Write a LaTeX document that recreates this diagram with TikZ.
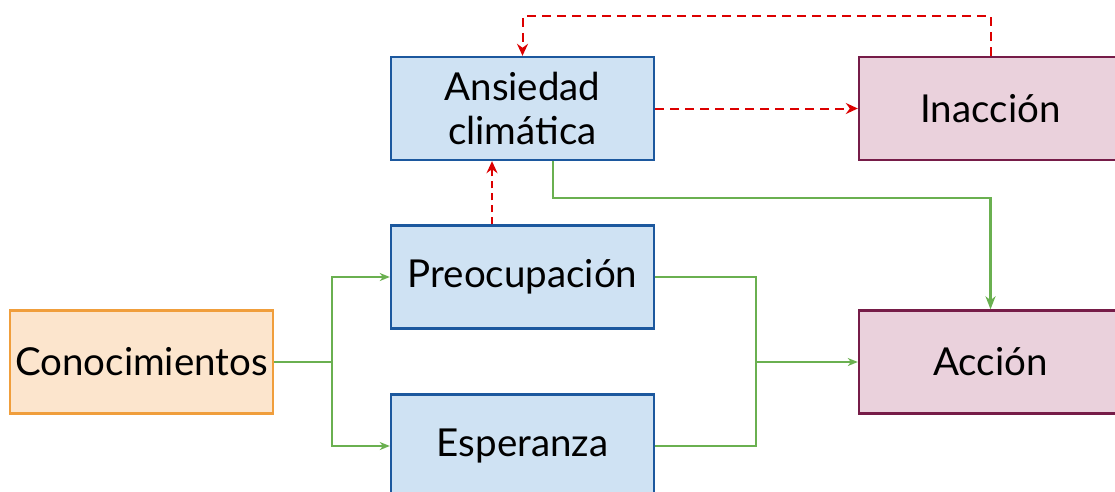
\documentclass[tikz,border=0pt]{standalone}
\usepackage{fontspec}
\setmainfont{Lato}
\usepackage{xcolor}
\usetikzlibrary{positioning,calc,arrows.meta}
\definecolor{BoxBlue}{RGB}{207,226,243}
\definecolor{LineBlue}{RGB}{28,88,158}
\definecolor{BoxOrange}{RGB}{252,229,205}
\definecolor{LineOrange}{RGB}{240,158,60}
\definecolor{BoxPink}{RGB}{234,209,220}
\definecolor{LinePink}{RGB}{118,28,72}
\definecolor{ArrGreen}{RGB}{106,176,80}
\definecolor{ArrRed}{RGB}{220,0,0}
\tikzset{
    box/.style={rectangle, draw, line width=2.4pt, minimum width=263pt, minimum height=103pt,
        inner sep=1pt, align=center, font=\fontsize{38.5}{44}\selectfont},
    bluebox/.style={box, draw=LineBlue, fill=BoxBlue},
    orangebox/.style={box, draw=LineOrange, fill=BoxOrange},
    pinkbox/.style={box, draw=LinePink, fill=BoxPink},
    thinline/.style={draw=ArrGreen, line width=1.5pt},
    thickline/.style={draw=ArrGreen, line width=2.2pt},
    redline/.style={draw=ArrRed, line width=2pt, dash pattern=on 9pt off 6pt}
}

\begin{document}
\begin{tikzpicture}[x=1pt, y=-1pt,
        % --- ARROW TIPS ---
        greentip/.style={-{Stealth[length=10pt, width=8pt, inset=3pt]}},
        bigtip/.style={-{Stealth[length=13pt, width=10pt, inset=4pt]}},
        redtip/.style={-{Stealth[length=12pt, width=11pt, inset=4pt]}}
    ]
        \useasboundingbox (0,0) rectangle (1115,491);

        % --- NODES ---
        \node[orangebox] (conoc) at (141.5,362) {Conocimientos};
        \node[bluebox] (preo) at (522.5,277) {Preocupación};
        \node[bluebox] (esper) at (522.5,446) {Esperanza};
        \node[bluebox] (ansi) at (522.5,108.5) {Ansiedad\\climática};
        \node[pinkbox] (inac) at (990.5,108.5) {Inacción};
        \node[pinkbox] (accion) at (990.5,362) {Acción};

        % --- FORKS ---
        \coordinate (forkL) at (332,362);
        \coordinate (forkR) at (756,362);

        % --- GREEN CONNECTORS ---
        \draw[thinline] (conoc.east) -- (forkL);
        \draw[thinline, greentip] (forkL) |- (preo.west);
        \draw[thinline, greentip] (forkL) |- (esper.west);
        \draw[thinline] (preo.east) -| (forkR);
        \draw[thinline] (esper.east) -| (forkR);
        \draw[thinline, greentip] (forkR) -- (accion.west);
        \draw[thickline, bigtip] ([xshift=30.5pt]ansi.south) -- ++(0,37) -| (accion.north);

        % --- RED CONNECTORS ---
        \draw[redline, redtip, line width=1.6pt, dash pattern=on 7pt off 5pt] ([xshift=-30.5pt]preo.north) -- ([xshift=-30.5pt]ansi.south);
        \draw[redline, redtip] (ansi.east) -- (inac.west);
        \draw[redline, redtip] (inac.north) -- ++(0,-40) -| (ansi.north);

    \end{tikzpicture}
\end{document}
